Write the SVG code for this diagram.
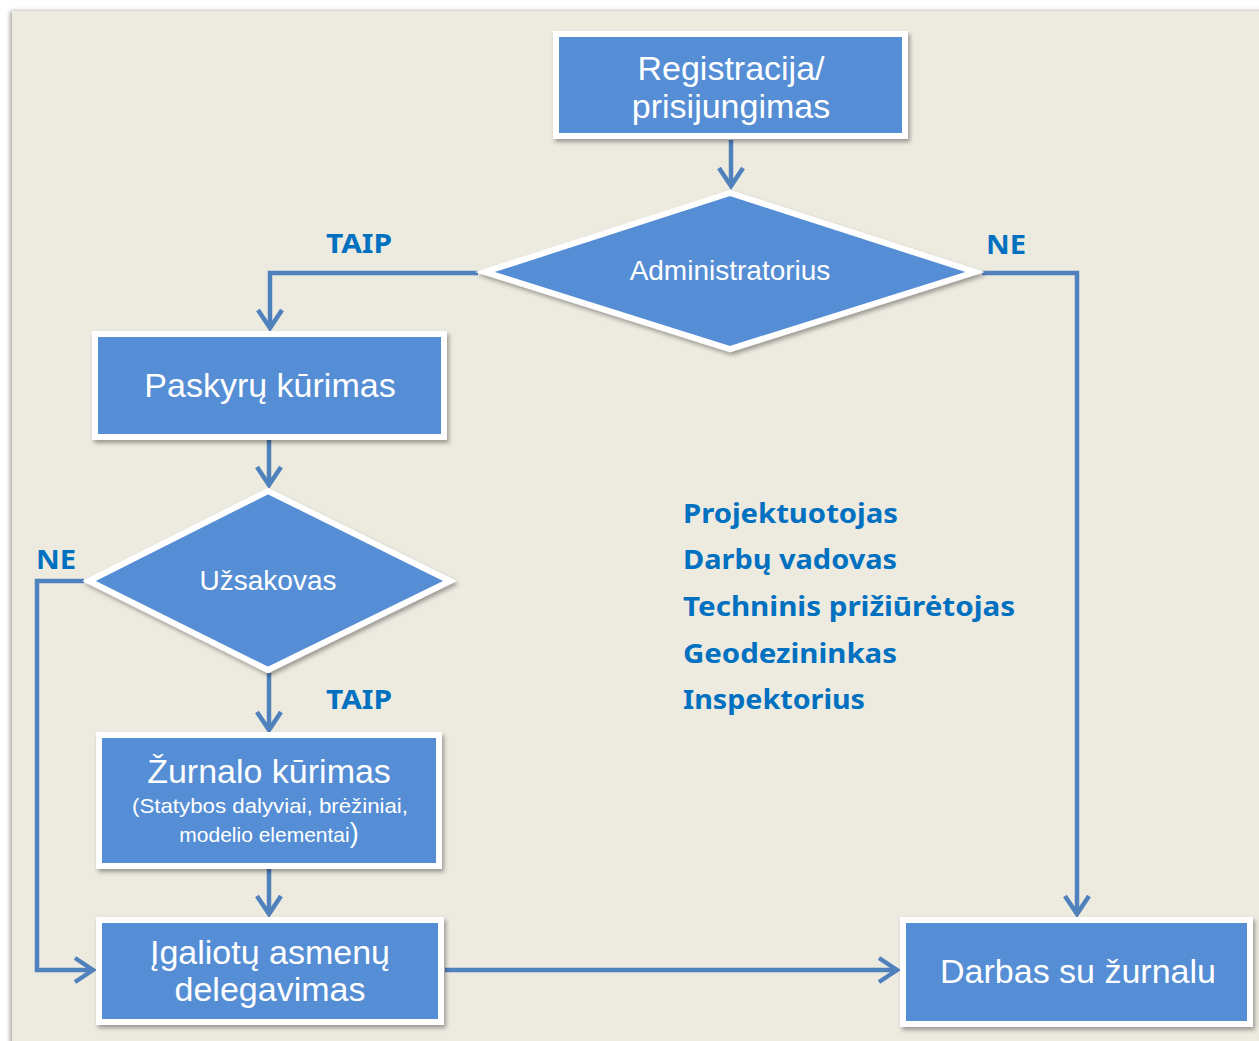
<svg xmlns="http://www.w3.org/2000/svg" width="1259" height="1041" viewBox="0 0 1259 1041">
<defs>
<filter id="sh" x="-10%" y="-10%" width="130%" height="140%">
<feDropShadow dx="2" dy="3" stdDeviation="2" flood-color="#000" flood-opacity="0.35"/>
</filter>
<filter id="psh" x="-5%" y="-5%" width="110%" height="110%">
<feDropShadow dx="-2" dy="0" stdDeviation="2" flood-color="#000" flood-opacity="0.35"/>
</filter>
<marker id="arr" markerUnits="userSpaceOnUse" viewBox="-22 -14 26 28" refX="0" refY="0" markerWidth="26" markerHeight="28" orient="auto">
<path d="M -18 -12 L 0 0 L -18 12" fill="none" stroke="#4F81BD" stroke-width="4.5" stroke-linejoin="miter"/>
</marker>
<style>
.box{fill:#558ED5;stroke:#FFFFFF;stroke-width:6;filter:url(#sh)}
.dia{fill:#558ED5;stroke:#FFFFFF;stroke-width:6;stroke-linejoin:miter;filter:url(#sh)}
.bt{font-family:"Liberation Sans",Arial,sans-serif;fill:#FFFFFF;text-anchor:middle;font-size:34px}
.dt{font-family:"Liberation Sans",Arial,sans-serif;fill:#FFFFFF;text-anchor:middle;font-size:28px}
.st{font-family:"Liberation Sans",Arial,sans-serif;fill:#FFFFFF;text-anchor:middle;font-size:21px}
.lb{font-family:"Noto Sans","Open Sans",sans-serif;font-weight:bold;fill:#0070C0;font-size:27px}
.conn{fill:none;stroke:#4F81BD;stroke-width:4.5;marker-end:url(#arr)}
</style>
</defs>
<rect x="0" y="0" width="1259" height="1041" fill="#FFFFFF"/>
<rect x="12" y="11" width="1260" height="1040" fill="#EDEAE0" filter="url(#psh)"/>

<g id="connectors">
<path class="conn" d="M 731 140 L 731 186"/>
<path class="conn" d="M 478 273 L 270 273 L 270 328"/>
<path class="conn" d="M 982 273 L 1077 273 L 1077 914"/>
<path class="conn" d="M 269 440 L 269 485"/>
<path class="conn" d="M 269 673 L 269 730"/>
<path class="conn" d="M 84 581 L 37 581 L 37 970 L 93 970"/>
<path class="conn" d="M 269 869 L 269 914"/>
<path class="conn" d="M 445 970 L 897 970"/>
</g>

<g id="node-registracija">
<rect class="box" x="556" y="34" width="349" height="102"/>
<text class="bt" x="731" y="80" font-size="35">Registracija/</text>
<text class="bt" x="731" y="118" font-size="35">prisijungimas</text>
</g>

<g id="node-administratorius">
<polygon class="dia" points="730,193 485,272 730,349 975,272"/>
<text class="dt" x="730" y="280">Administratorius</text>
</g>

<g id="node-paskyru">
<rect class="box" x="95" y="334" width="349" height="103"/>
<text class="bt" x="270" y="397">Paskyrų kūrimas</text>
</g>

<g id="node-uzsakovas">
<polygon class="dia" points="268,491 89,581 268,670 450,581"/>
<text class="dt" x="268" y="590">Užsakovas</text>
</g>

<g id="node-zurnalo">
<rect class="box" x="99" y="735" width="340" height="131"/>
<text class="bt" x="269" y="783">Žurnalo kūrimas</text>
<text class="st" x="270" y="813" textLength="276" lengthAdjust="spacingAndGlyphs">(Statybos dalyviai, brėžiniai,</text>
<text class="st" x="269" y="842">modelio elementai<tspan font-size="27px">)</tspan></text>
</g>

<g id="node-igalioti">
<rect class="box" x="99" y="920" width="342" height="102"/>
<text class="bt" x="270" y="964">Įgaliotų asmenų</text>
<text class="bt" x="270" y="1001">delegavimas</text>
</g>

<g id="node-darbas">
<rect class="box" x="903" y="920" width="347" height="104"/>
<text class="bt" x="1078" y="983">Darbas su žurnalu</text>
</g>

<g id="labels">
<text class="lb" x="326" y="253" textLength="66" lengthAdjust="spacingAndGlyphs">TAIP</text>
<text class="lb" x="986" y="254" textLength="40" lengthAdjust="spacingAndGlyphs">NE</text>
<text class="lb" x="36" y="569" textLength="40" lengthAdjust="spacingAndGlyphs">NE</text>
<text class="lb" x="326" y="709" textLength="66" lengthAdjust="spacingAndGlyphs">TAIP</text>
<text class="lb" x="683" y="523" textLength="215" lengthAdjust="spacingAndGlyphs">Projektuotojas</text>
<text class="lb" x="683" y="569" textLength="214" lengthAdjust="spacingAndGlyphs">Darbų vadovas</text>
<text class="lb" x="683" y="616" textLength="332" lengthAdjust="spacingAndGlyphs">Techninis prižiūrėtojas</text>
<text class="lb" x="683" y="663" textLength="214" lengthAdjust="spacingAndGlyphs">Geodezininkas</text>
<text class="lb" x="683" y="709" textLength="182" lengthAdjust="spacingAndGlyphs">Inspektorius</text>
</g>
</svg>
